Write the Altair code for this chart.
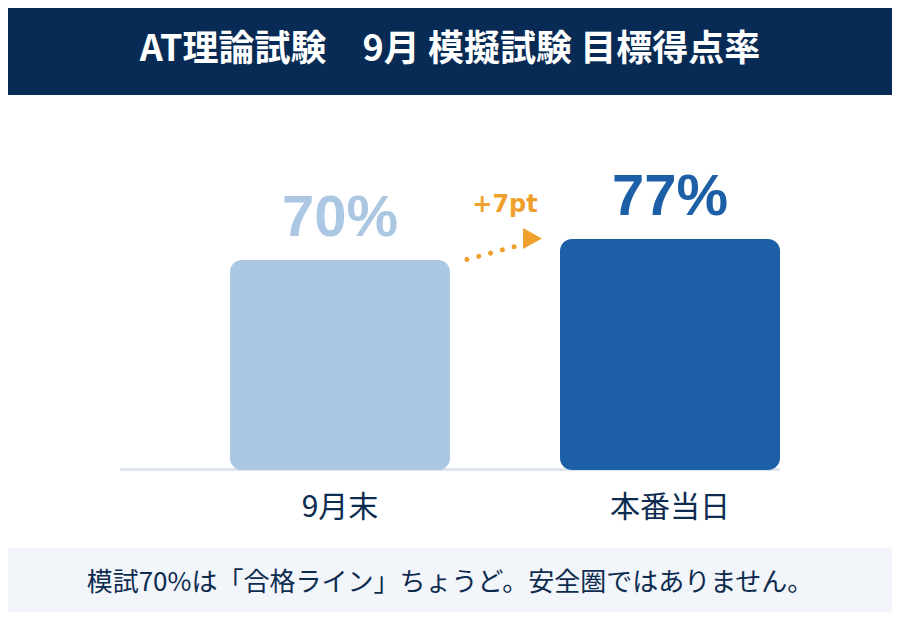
import altair as alt
import pandas as pd

# ---- data ----
categories = ["9月末", "本番当日"]
values = [70, 77]
value_labels = ["70%", "77%"]
bar_colors = ["#abc7e3", "#1c5fa6"]

title_text = "AT理論試験　9月 模擬試験 目標得点率"
diff_label = "+7pt"
footer_text = "模試70%は「合格ライン」ちょうど。安全圏ではありません。"

NAVY = "#072b54"
TEXT = "#0d2c50"
ORANGE = "#f0a02c"

W, H = 884, 604

df = pd.DataFrame({"cat": categories, "value": values, "label": value_labels})
df_title = pd.DataFrame({"t": [title_text]})
df_diff = pd.DataFrame({"t": [diff_label]})
df_footer = pd.DataFrame({"t": [footer_text]})
one = pd.DataFrame({"k": [0]})

xs = alt.Scale(domain=categories, range=[167, 827], paddingInner=1 / 3, paddingOuter=1 / 6)
ys = alt.Scale(domain=[0, 100], range=[462, 162])
cs = alt.Scale(domain=categories, range=bar_colors)

X = alt.X("cat:N", scale=xs, axis=None)
Y = alt.Y("value:Q", scale=ys, axis=None)
C = alt.Color("cat:N", scale=cs, legend=None)

header = alt.Chart(one).mark_rect(color=NAVY).encode(
    x=alt.value(0), x2=alt.value(W), y=alt.value(0), y2=alt.value(87)
)
title = alt.Chart(df_title).mark_text(
    font="Noto Sans CJK JP", fontWeight="bold", fontSize=36, color="white",
    align="center", baseline="alphabetic"
).encode(x=alt.value(442), y=alt.value(53), text="t:N")

footer_bg = alt.Chart(one).mark_rect(color="#f2f5f9").encode(
    x=alt.value(0), x2=alt.value(W), y=alt.value(540), y2=alt.value(H)
)
footer = alt.Chart(df_footer).mark_text(
    font="Noto Sans CJK JP", fontSize=26, color=TEXT, align="center", baseline="alphabetic"
).encode(x=alt.value(442), y=alt.value(583), text="t:N")

baseline = alt.Chart(one).mark_rule(color="#dde4ee", strokeWidth=3).encode(
    x=alt.value(112), x2=alt.value(772), y=alt.value(461.5)
)

bars = alt.Chart(df).mark_bar(cornerRadius=12).encode(x=X, y=Y, color=C)

labels = alt.Chart(df).mark_text(
    font="Liberation Sans", fontWeight="bold", fontSize=58, dy=-24,
    align="center", baseline="alphabetic"
).encode(x=X, y=Y, text="label:N", color=C)

cat_labels = alt.Chart(df).mark_text(
    font="Noto Sans CJK JP", fontSize=30, color=TEXT, align="center", baseline="alphabetic"
).encode(x=X, y=alt.value(509), text="cat:N")

arrow_line = alt.Chart(one).mark_rule(
    color=ORANGE, strokeWidth=5, strokeDash=[0.01, 12.2], strokeCap="round"
).encode(x=alt.value(459), y=alt.value(251.5), x2=alt.value(507), y2=alt.value(238.5))

arrow_head = alt.Chart(one).mark_point(
    shape="M-0.9,-1L0.9,0L-0.9,1Z", filled=True, size=441, color=ORANGE, opacity=1
).encode(x=alt.value(524.5), y=alt.value(230.5))

diff = alt.Chart(df_diff).mark_text(
    font="DejaVu Sans", fontWeight="bold", fontSize=24, color=ORANGE,
    align="center", baseline="alphabetic"
).encode(x=alt.value(497), y=alt.value(204), text="t:N")

chart = alt.layer(
    header, title, footer_bg, footer, baseline, bars, labels, cat_labels,
    arrow_line, arrow_head, diff
).properties(
    width=W, height=H, padding=0, background="white",
    autosize=alt.AutoSizeParams(type="none")
).configure_view(stroke=None)

chart.save("out.html", embed_options={"renderer": "svg", "actions": False})
